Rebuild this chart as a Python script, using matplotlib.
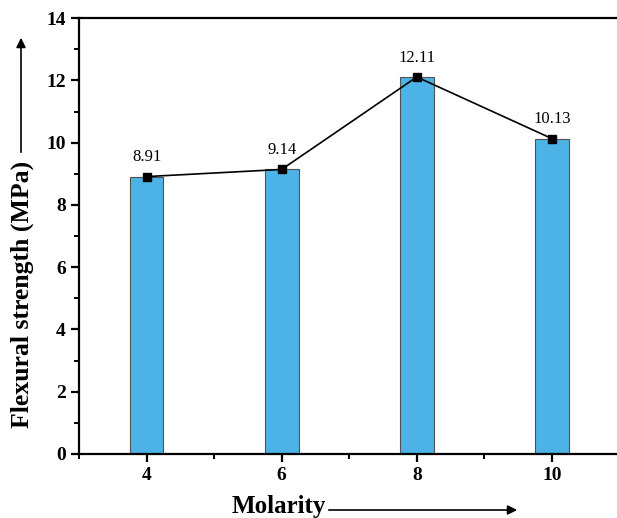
import matplotlib
matplotlib.use('Agg')
import matplotlib.pyplot as plt

# Data
molarity = [4, 6, 8, 10]
strength = [8.91, 9.14, 12.11, 10.13]
labels = ['8.91', '9.14', '12.11', '10.13']

plt.rcParams['font.family'] = 'Liberation Serif'

fig = plt.figure(figsize=(6.17, 5.18), dpi=100)
ax = fig.add_axes([0.128, 0.1236, 0.876, 0.8414])

ax.bar(molarity, strength, width=0.5, color='#4DB3E6', edgecolor='#505050', linewidth=0.8, zorder=2)
ax.plot(molarity, strength, color='black', linewidth=1.2, marker='s', markersize=6, zorder=3)

for x, y, t in zip(molarity, strength, labels):
    ax.annotate(t, (x, y), xytext=(0, 14), textcoords='offset points',
                ha='center', va='center', fontsize=12)

ax.set_xlim(3, 11)
ax.set_ylim(0, 14)
ax.set_xticks(molarity)
ax.set_xticks([3, 5, 7, 9, 11], minor=True)
ax.set_yticks(range(0, 15, 2))
ax.set_yticks(range(1, 15, 2), minor=True)

for s in ['left', 'bottom', 'top']:
    ax.spines[s].set_linewidth(1.6)
ax.spines['right'].set_visible(False)

ax.tick_params(which='major', direction='out', length=6, width=1.6, labelsize=14)
ax.tick_params(which='minor', direction='out', length=3.5, width=1.4)
for lab in ax.get_xticklabels() + ax.get_yticklabels():
    lab.set_fontweight('bold')

# axis titles with arrows
fig.text(22 / 617, 1 - 294 / 518, 'Flexural strength (MPa)', rotation=90,
         ha='center', va='center', fontsize=18.5, fontweight='bold')
fig.text(279 / 617, 1 - 506 / 518, 'Molarity', ha='center', va='center',
         fontsize=18, fontweight='bold')
ax.annotate('', xy=(21 / 617, 1 - 35 / 518), xytext=(21 / 617, 1 - 155 / 518),
            xycoords='figure fraction', textcoords='figure fraction',
            arrowprops=dict(arrowstyle='-|>', color='black', lw=1.2, mutation_scale=14))
ax.annotate('', xy=(520 / 617, 1 - 510 / 518), xytext=(326 / 617, 1 - 510 / 518),
            xycoords='figure fraction', textcoords='figure fraction',
            arrowprops=dict(arrowstyle='-|>', color='black', lw=1.2, mutation_scale=14))

plt.savefig('out.png', dpi=100)
plt.close()
